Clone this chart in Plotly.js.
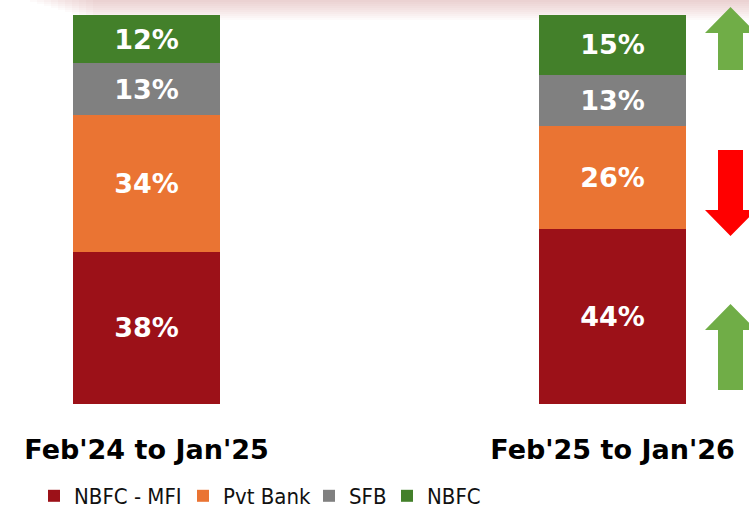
<!DOCTYPE html>
<html>
<head>
<meta charset="utf-8">
<script src="https://cdn.plot.ly/plotly-3.0.1.min.js"></script>
<style>html,body{margin:0;padding:0;background:#fff;}#chart{width:749px;height:511px;}</style>
</head>
<body>
<div id="chart"></div>
<script>
// ---- data ----
const periods = ["Feb'24 to Jan'25", "Feb'25 to Jan'26"];
const seriesNames = ["NBFC - MFI", "Pvt Bank", "SFB", "NBFC"];
const nbfcMfi = [38, 44];
const pvtBank = [34, 26];
const sfb = [13, 13];
const nbfc = [12, 15];

const colors = ["#9C1118", "#EA7433", "#808080", "#43802A"];
const seriesValues = [nbfcMfi, pvtBank, sfb, nbfc];

const W = 749, H = 511;
const margin = {l: 0, r: 0, t: 15, b: 107, autoexpand: false};
const plotH = H - margin.t - margin.b;
const px = x => x / W;
const py = y => (H - margin.b - y) / plotH;

const legendIds = ['legend', 'legend2', 'legend3', 'legend4'];
const legendTextX = [75, 224, 350, 428];

const traces = seriesNames.map((name, i) => ({
  type: 'bar',
  name: name,
  legend: legendIds[i],
  x: periods,
  y: seriesValues[i],
  width: 0.3155,
  marker: {color: colors[i], line: {width: 0}},
  text: seriesValues[i].map(v => v + '%'),
  textposition: 'inside',
  insidetextanchor: 'middle',
  textangle: 0,
  textfont: {family: 'DejaVu Sans', size: 27, weight: 'bold', color: '#FFFFFF'},
  hoverinfo: 'skip'
}));

function arrowUp(cx, tipY, headY, shaftBottom, halfHead, halfShaft) {
  return 'M' + px(cx) + ',' + py(tipY) +
    ' L' + px(cx + halfHead) + ',' + py(headY) +
    ' L' + px(cx + halfShaft) + ',' + py(headY) +
    ' L' + px(cx + halfShaft) + ',' + py(shaftBottom) +
    ' L' + px(cx - halfShaft) + ',' + py(shaftBottom) +
    ' L' + px(cx - halfShaft) + ',' + py(headY) +
    ' L' + px(cx - halfHead) + ',' + py(headY) + ' Z';
}

const shapes = [];
// soft pink shadow band at top
for (let k = 0; k < 10; k++) {
  shapes.push({
    type: 'rect', xref: 'paper', yref: 'paper', layer: 'below',
    x0: px(30 + k * 7), x1: px(749 + 20),
    y0: py(2 + k * 2), y1: py(-5),
    fillcolor: 'rgba(215,130,135,0.04)', line: {width: 0}
  });
}
shapes.push(
  {type: 'path', xref: 'paper', yref: 'paper', path: arrowUp(730.5, 7, 33, 70, 25.5, 12.5), fillcolor: '#70AD47', line: {width: 0}},
  {type: 'path', xref: 'paper', yref: 'paper', path: arrowUp(730.5, 236, 210, 150, 25.5, 12.5), fillcolor: '#FF0000', line: {width: 0}},
  {type: 'path', xref: 'paper', yref: 'paper', path: arrowUp(730.5, 304, 330, 390, 25.5, 12.5), fillcolor: '#70AD47', line: {width: 0}}
);

const layout = {
  width: W, height: H,
  margin: margin,
  paper_bgcolor: '#FFFFFF',
  plot_bgcolor: 'rgba(0,0,0,0)',
  barmode: 'stack',
  barnorm: 'percent',
  showlegend: true,
  xaxis: {
    type: 'category',
    range: [-0.3144, 1.2929],
    showgrid: false, zeroline: false, showline: false, ticks: '',
    tickfont: {family: 'DejaVu Sans', size: 27, weight: 'bold', color: '#000000'},
    ticklabelstandoff: 27,
    fixedrange: true
  },
  yaxis: {
    range: [0, 100],
    visible: false, showgrid: false, zeroline: false, fixedrange: true
  },
  shapes: shapes
};

legendIds.forEach((id, i) => {
  layout[id] = {
    orientation: 'h', x: px(legendTextX[i] - 41), xanchor: 'left', y: py(496), yanchor: 'middle',
    font: {family: 'DejaVu Sans Condensed', size: 22, color: '#111111'},
    bgcolor: 'rgba(0,0,0,0)', itemwidth: 30
  };
});

Plotly.newPlot('chart', traces, layout, {displayModeBar: false, staticPlot: true});
</script>
</body>
</html>
